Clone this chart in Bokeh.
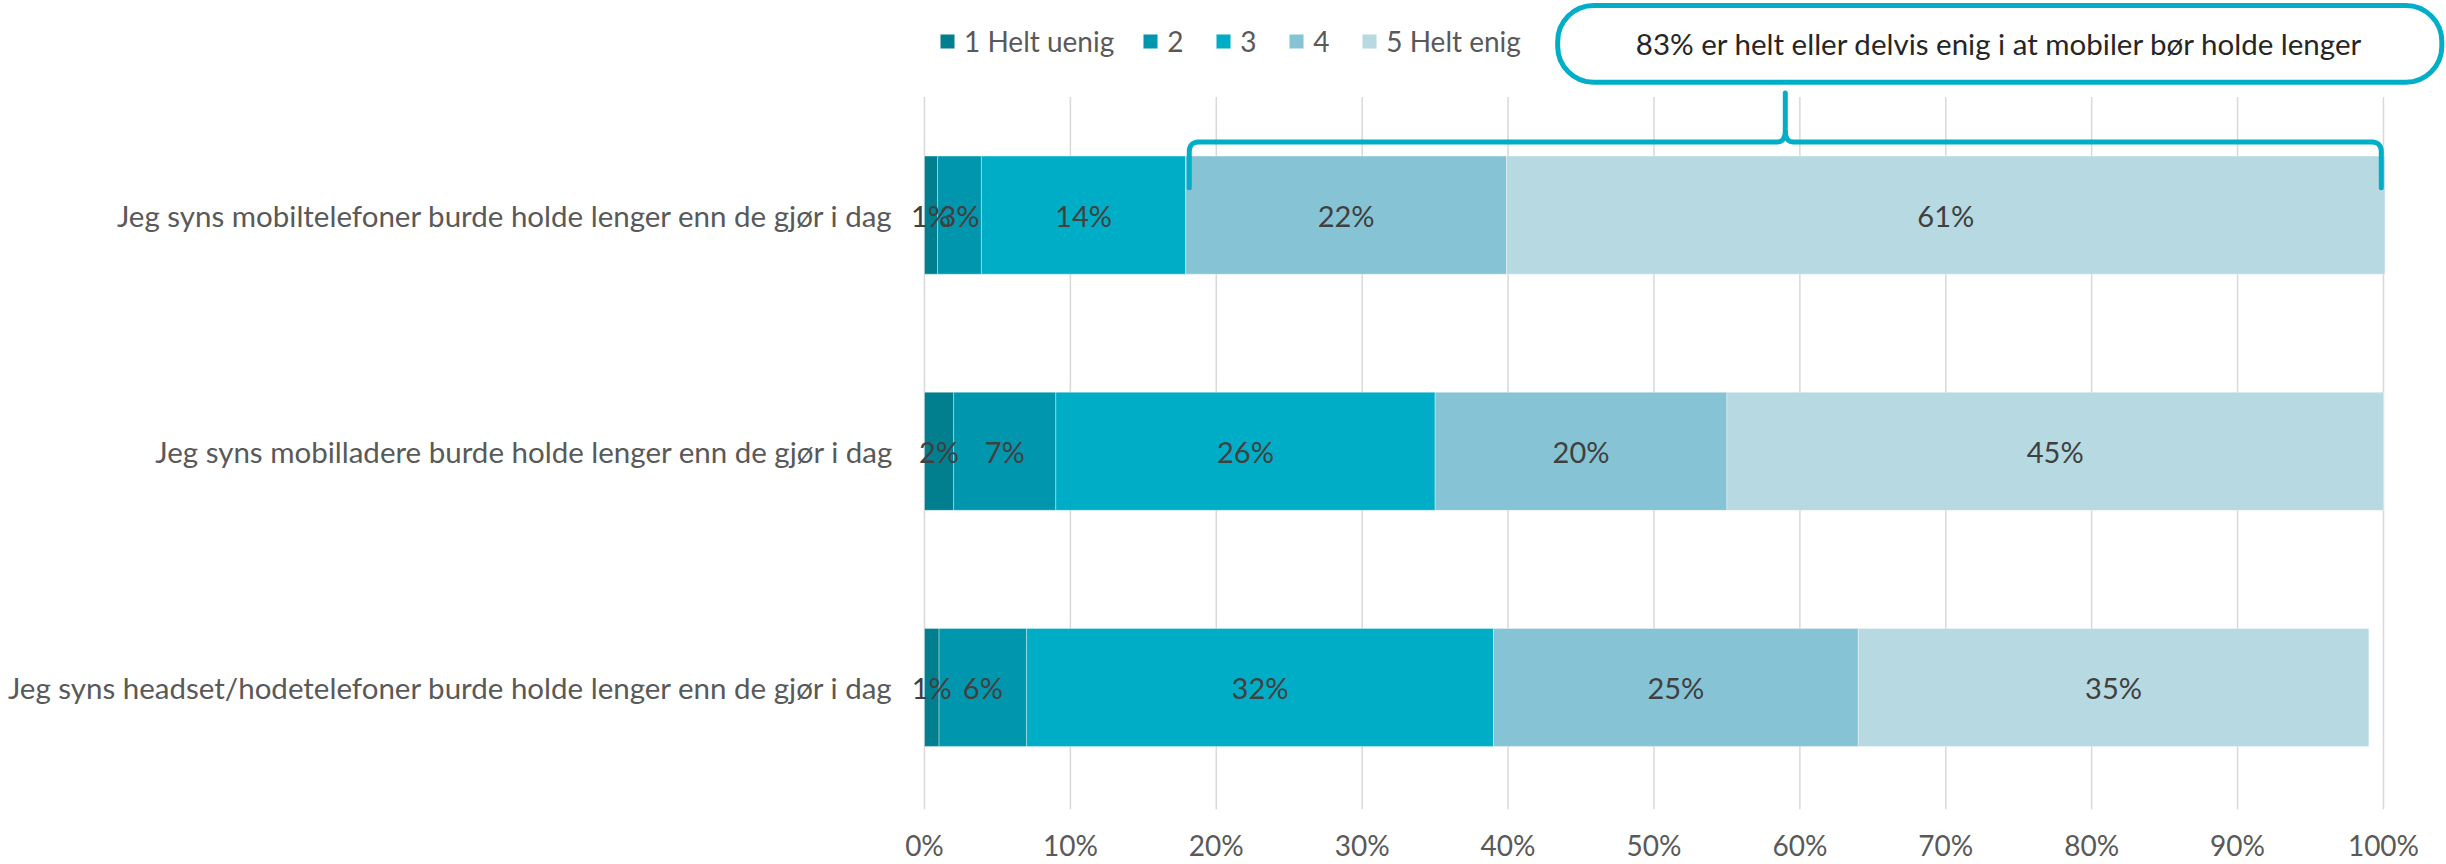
from bokeh.plotting import figure
from bokeh.models import ColumnDataSource, FixedTicker, Range1d
from bokeh.core.properties import value
from bokeh.embed import file_html
from bokeh.resources import INLINE

# ---------------- data ----------------
statements = [
    "Jeg syns mobiltelefoner burde holde lenger enn de gjør i dag",
    "Jeg syns mobilladere burde holde lenger enn de gjør i dag",
    "Jeg syns headset/hodetelefoner burde holde lenger enn de gjør i dag",
]
series = ["1 Helt uenig", "2", "3", "4", "5 Helt enig"]
s1 = [0.9, 2.0, 1.0]
s2 = [3.0, 7.0, 6.0]
s3 = [14.0, 26.0, 32.0]
s4 = [22.0, 20.0, 25.0]
s5 = [60.2, 45.0, 35.0]
lab1 = ["1%", "2%", "1%"]
lab2 = ["3%", "7%", "6%"]
lab3 = ["14%", "26%", "32%"]
lab4 = ["22%", "20%", "25%"]
lab5 = ["61%", "45%", "35%"]
tick_values = [0, 10, 20, 30, 40, 50, 60, 70, 80, 90, 100]
tick_labels = ["0%", "10%", "20%", "30%", "40%", "50%", "60%", "70%", "80%", "90%", "100%"]
callout_text = "83% er helt eller delvis enig i at mobiler bør holde lenger"

colors = ["#027F8F", "#0096AD", "#00ADC6", "#86C4D5", "#B7D9E2"]
accent = "#00AEC7"
FONT = value("Lato")

rows_y = [3, 2, 1]  # top to bottom

# ---------------- figure ----------------
X0, X1 = -63.33, 104.32
Y0, Y1 = 0.483, 3.909
p = figure(width=2446, height=864, x_range=Range1d(X0, X1), y_range=Range1d(Y0, Y1),
           output_backend="svg", toolbar_location=None, y_axis_location=None,
           min_border_left=0, min_border_right=0, min_border_top=0, min_border_bottom=52)
p.outline_line_color = None
p.xgrid.visible = False
p.ygrid.visible = False

# gridlines
p.segment(x0=tick_values, x1=tick_values, y0=[Y0] * len(tick_values), y1=[3.5] * len(tick_values),
          line_color="#D9D9D9", line_width=1.5)

# stacked bars
cols = ["s1", "s2", "s3", "s4", "s5"]
src = ColumnDataSource(dict(y=rows_y, s1=s1, s2=s2, s3=s3, s4=s4, s5=s5))
rends = p.hbar_stack(cols, y="y", height=0.5, color=colors, source=src,
                     line_color="white", line_alpha=0.35, line_width=1,
                     legend_label=series)

# value labels
vals = [s1, s2, s3, s4, s5]
labs = [lab1, lab2, lab3, lab4, lab5]
lx, ly, lt = [], [], []
for r in range(3):
    cum = 0.0
    for k in range(5):
        v = vals[k][r]
        lx.append(cum + v / 2.0)
        ly.append(rows_y[r])
        lt.append(labs[k][r])
        cum += v
p.text(x=lx, y=ly, text=lt, text_align="center", text_baseline="middle",
       text_font=FONT, text_font_size="29px", text_color="#404040")

# category labels
p.text(x=[-2.12] * 3, y=rows_y, text=statements, text_align="right", text_baseline="middle",
       text_font=FONT, text_font_size="29.5px", text_color="#595959")

# x axis
p.xaxis.ticker = FixedTicker(ticks=tick_values)
p.xaxis.major_label_overrides = {t: l for t, l in zip(tick_values, tick_labels)}
p.xaxis.axis_line_color = None
p.xaxis.major_tick_line_color = None
p.xaxis.minor_tick_line_color = None
p.xaxis.major_tick_out = 0
p.xaxis.major_tick_in = 0
p.xaxis.minor_tick_out = 0
p.xaxis.minor_tick_in = 0
p.xaxis.major_label_text_font = "Lato"
p.xaxis.major_label_text_font_size = "28px"
p.xaxis.major_label_text_color = "#595959"
p.xaxis.major_label_standoff = 18

# bracket over the agreeing share of row 1
xl = s1[0] + s2[0] + s3[0] + 0.25
xr = s1[0] + s2[0] + s3[0] + s4[0] + s5[0] - 0.25
xm = (xl + xr) / 2.0
y_end, y_h, y_pk = 3.116, 3.310, 3.517
rx, ry = 0.7, 0.042
rx2, ry2 = 0.55, 0.05


def quad(p0, c, p1, n=12):
    out = []
    for i in range(n + 1):
        t = i / n
        out.append(((1 - t) ** 2 * p0[0] + 2 * (1 - t) * t * c[0] + t ** 2 * p1[0],
                    (1 - t) ** 2 * p0[1] + 2 * (1 - t) * t * c[1] + t ** 2 * p1[1]))
    return out


pts = [(xl, y_end)]
pts += quad((xl, y_h - ry), (xl, y_h), (xl + rx, y_h))
pts += quad((xm - rx2, y_h), (xm, y_h), (xm, y_h + ry2))
pts += [(xm, y_pk)]
pts += quad((xm, y_h + ry2), (xm, y_h), (xm + rx2, y_h))
pts += quad((xr - rx, y_h), (xr, y_h), (xr, y_h - ry))
pts += [(xr, y_end)]
p.line(x=[q[0] for q in pts], y=[q[1] for q in pts], line_color=accent, line_width=5,
       line_join="round", line_cap="round")

# callout box
bl, br, bb, bt = 43.4, 104.0, 3.563, 3.888
p.quad(left=[bl], right=[br], bottom=[bb], top=[bt], fill_color="white",
       line_color=accent, line_width=5, border_radius=36)
p.text(x=[(bl + br) / 2], y=[(bb + bt) / 2], text=[callout_text], text_align="center",
       text_baseline="middle", text_font=FONT, text_font_size="29.5px", text_color="#262626")

# legend
lg = p.legend[0]
lg.orientation = "horizontal"
lg.location = (938, 751)
lg.background_fill_alpha = 0
lg.border_line_color = None
lg.padding = 0
lg.margin = 0
lg.spacing = 27
lg.label_standoff = 8
lg.glyph_width = 18
lg.glyph_height = 18
lg.label_text_font = "Lato"
lg.label_text_font_size = "28px"
lg.label_text_color = "#595959"

open("out.html", "w").write(file_html(p, INLINE))
